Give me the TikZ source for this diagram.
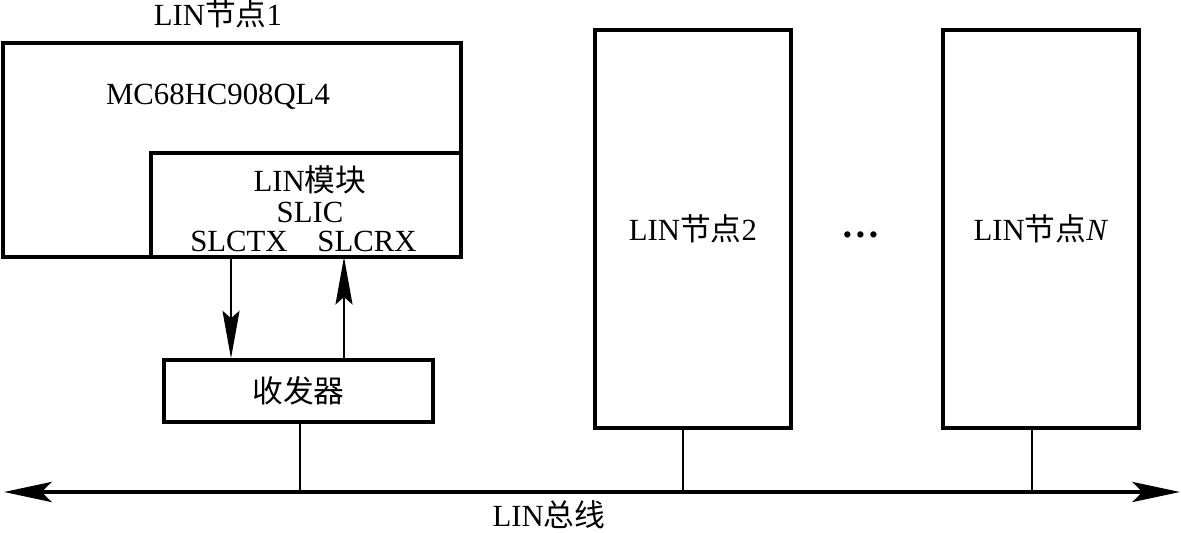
\documentclass[tikz,border=0pt]{standalone}
\usepackage{fontspec}
\setmainfont{Liberation Serif}
\newfontfamily\cjkfont{Noto Sans CJK SC}
\newcommand{\zhtext}[1]{{\cjkfont #1}}
\usetikzlibrary{arrows.meta,positioning}

\begin{document}
\begin{tikzpicture}[
  font=\fontsize{17.5}{20}\selectfont,
  inner sep=0.5pt,
  blockbox/.style={draw,line width=1.9pt,inner sep=0pt},
  stub/.style={line width=1.3pt},
  sig/.style={-{Stealth[length=9.5mm,width=3.4mm,inset=1.5mm]},line width=1.3pt},
  bus/.style={{Stealth[length=9.5mm,width=4mm,inset=2mm]}-{Stealth[length=9.5mm,width=4mm,inset=2mm]},line width=2.8pt}
]
\useasboundingbox (0,0) rectangle (23.62,10.66);

% Node 1 with its LIN module and transceiver.
\node (title1) at (4.36,10.38) {LIN\zhtext{节点}1};
\node[blockbox,minimum width=9.16cm,minimum height=4.28cm] (mcu) at (4.64,7.66) {};
\node (mcuname) at (4.36,8.72) {MC68HC908QL4};
\node[blockbox,minimum width=6.2cm,minimum height=2.08cm] (linmod) at (6.12,6.56) {};
\node (modname) at (6.2,7.06) {LIN\zhtext{模块}};
\node (slic) at (6.2,6.42) {SLIC};
\node (slctx) at (4.78,5.84) {SLCTX};
\node (slcrx) at (7.34,5.84) {SLCRX};
\node[blockbox,minimum width=5.38cm,minimum height=1.24cm] (trx) at (5.97,2.84) {\zhtext{收发器}};
\coordinate (txpin) at (4.62,5.52);
\coordinate (rxpin) at (6.88,5.52);
\draw[sig] (txpin) -- (txpin |- trx.north);
\draw[sig] (rxpin |- trx.north) -- (rxpin);

% Remaining nodes on the bus.
\node[blockbox,minimum width=3.92cm,minimum height=7.96cm] (node2) at (13.86,6.08) {LIN\zhtext{节点}2};
\node (dots) at (17.22,5.96) {\fontsize{22}{22}\selectfont\textbf{\ldots}};
\node[blockbox,minimum width=3.92cm,minimum height=7.96cm] (noden) at (20.82,6.08) {LIN\zhtext{节点}\textit{N}};

% LIN bus.
\coordinate (busl) at (0.08,0.82);
\coordinate (busr) at (23.6,0.82);
\draw[bus] (busl) -- (busr);
\draw[stub] ([xshift=0.03cm]trx.south) -- ([xshift=0.03cm]trx.south |- busl);
\draw[stub] ([xshift=-0.2cm]node2.south) -- ([xshift=-0.2cm]node2.south |- busl);
\draw[stub] ([xshift=-0.18cm]noden.south) -- ([xshift=-0.18cm]noden.south |- busl);
\node (busname) at (10.98,0.36) {LIN\zhtext{总线}};
\end{tikzpicture}
\end{document}
